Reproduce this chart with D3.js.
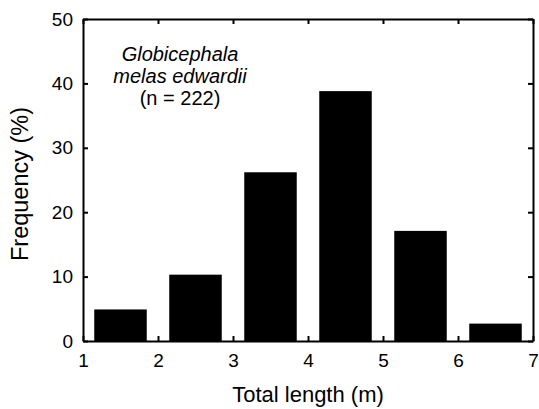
<!DOCTYPE html>
<html>
<head>
<meta charset="utf-8">
<script src="https://cdn.jsdelivr.net/npm/d3@7"></script>
<style>
  body { margin: 0; background: #fff; }
  svg text { font-family: "Liberation Sans", Arial, sans-serif; fill: #000; }
</style>
</head>
<body>
<svg id="chart" width="539" height="409"></svg>
<script>
// length bins (m), lower edges of each 1 m class
var binStart = [1, 2, 3, 4, 5, 6];
// frequency (%) per bin
var freq = [4.9, 10.3, 26.2, 38.8, 17.1, 2.7];
var xTicks = [1, 2, 3, 4, 5, 6, 7];
var yTicks = [0, 10, 20, 30, 40, 50];
var noteLines = ["Globicephala", "melas edwardii", "(n = 222)"];

var svg = d3.select('#chart');
var plotL = 83, plotR = 533, plotT = 19, plotB = 341;

var x = d3.scaleLinear().domain([1, 7]).range([plotL, plotR]);
var y = d3.scaleLinear().domain([0, 50]).range([plotB, plotT]);

// bars, 0.7 m wide, centred in each bin
svg.append('g').selectAll('rect')
    .data(binStart)
    .enter().append('rect')
    .attr('x', function (d) { return x(d + 0.15); })
    .attr('width', function (d) { return x(d + 0.85) - x(d + 0.15); })
    .attr('y', function (d, i) { return y(freq[i]); })
    .attr('height', function (d, i) { return y(0) - y(freq[i]); })
    .attr('fill', '#000');

// axes, ticks pointing inwards
var xAxis = d3.axisBottom(x).tickValues(xTicks).tickFormat(d3.format('d'))
    .tickSizeInner(-5).tickSizeOuter(0).tickPadding(13);
var yAxis = d3.axisLeft(y).tickValues(yTicks).tickFormat(d3.format('d'))
    .tickSizeInner(-5).tickSizeOuter(0).tickPadding(10);

function styleAxis(g) {
  g.select('.domain').attr('stroke', '#000').attr('stroke-width', 2);
  g.selectAll('.tick line').attr('stroke', '#000').attr('stroke-width', 2);
  g.selectAll('.tick text').style('font-size', '19px').attr('fill', '#000');
}

svg.append('g').attr('transform', 'translate(0,' + plotB + ')').call(xAxis).call(styleAxis);
svg.append('g').attr('transform', 'translate(' + plotL + ',0)').call(yAxis).call(styleAxis);
svg.append('g').attr('transform', 'translate(0,' + plotT + ')')
    .call(d3.axisTop(x).tickValues(xTicks).tickSizeInner(-5).tickSizeOuter(0).tickFormat(''))
    .call(styleAxis);
svg.append('g').attr('transform', 'translate(' + plotR + ',0)')
    .call(d3.axisRight(y).tickValues(yTicks).tickSizeInner(-5).tickSizeOuter(0).tickFormat(''))
    .call(styleAxis);

// axis titles
svg.append('text')
    .attr('x', (plotL + plotR) / 2)
    .attr('y', 402)
    .attr('text-anchor', 'middle')
    .style('font-size', '22px')
    .text('Total length (m)');

svg.append('text')
    .attr('transform', 'translate(28,' + 184 + ') rotate(-90)')
    .attr('text-anchor', 'middle')
    .style('font-size', '23.5px')
    .text('Frequency (%)');

// species note
svg.append('g').selectAll('text')
    .data(noteLines)
    .enter().append('text')
    .attr('x', 180)
    .attr('y', function (d, i) { return 61 + i * 22; })
    .attr('text-anchor', 'middle')
    .style('font-size', '20px')
    .style('font-style', function (d, i) { return i < 2 ? 'italic' : 'normal'; })
    .text(function (d) { return d; });
</script>
</body>
</html>
